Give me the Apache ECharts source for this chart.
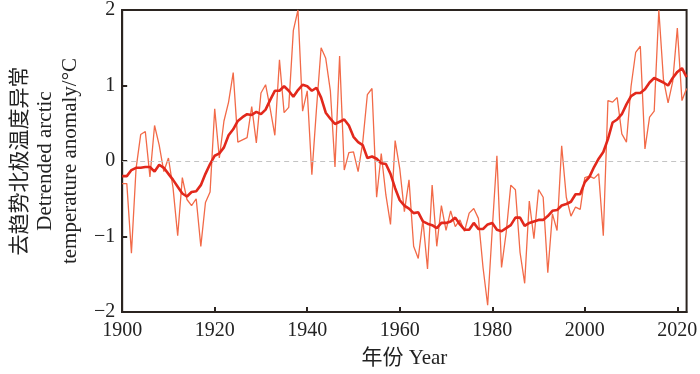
<!DOCTYPE html>
<html>
<head>
<meta charset="utf-8">
<script src="https://cdn.jsdelivr.net/npm/echarts@6/dist/echarts.min.js"></script>
</head>
<body style="margin:0">
<div id="chart" style="width:700px;height:374px"></div>
<script>
// years 1900..2022
const startYear = 1900;
const rawAnomaly = [
  -0.30, -0.30, -1.22, -0.10, 0.35, 0.39, -0.21, 0.47, 0.21, -0.14,
  0.04, -0.36, -0.99, -0.22, -0.51, -0.59, -0.50, -1.13, -0.55, -0.41,
  0.69, 0.04, 0.53, 0.78, 1.17, 0.25, 0.28, 0.31, 0.72, 0.24,
  0.90, 1.01, 0.69, 0.34, 1.34, 0.64, 0.71, 1.73, 2.00, 0.66,
  0.93, -0.18, 0.69, 1.50, 1.36, 0.93, -0.08, 1.39, -0.12, 0.11,
  0.12, -0.14, 0.25, 0.88, 0.96, -0.48, 0.10, -0.45, -0.84, 0.27,
  -0.10, -0.67, -0.25, -1.13, -1.29, -0.78, -1.43, -0.32, -1.13, -0.59,
  -0.92, -0.66, -0.87, -0.78, -0.93, -0.69, -0.63, -0.76, -1.41, -1.91,
  -0.90, 0.07, -1.41, -0.95, -0.32, -0.38, -1.21, -1.62, -0.53, -1.03,
  -0.38, -0.48, -1.48, -0.70, -0.92, 0.20, -0.48, -0.73, -0.61, -0.64,
  -0.22, -0.20, -0.23, -0.17, -0.99, 0.80, 0.78, 0.84, 0.36, 0.25,
  0.99, 1.44, 1.52, 0.16, 0.58, 0.66, 2.00, 1.08, 0.77, 1.05,
  1.76, 0.80, 0.96
];
const smoothAnomaly = [
  -0.20, -0.20, -0.12, -0.09, -0.09, -0.08, -0.08, -0.14, -0.05, -0.09,
  -0.17, -0.25, -0.34, -0.43, -0.47, -0.41, -0.40, -0.32, -0.17, -0.04,
  0.07, 0.10, 0.18, 0.34, 0.42, 0.53, 0.58, 0.62, 0.61, 0.65,
  0.62, 0.68, 0.81, 0.93, 0.93, 0.99, 0.93, 0.85, 0.94, 1.01,
  0.99, 0.93, 0.97, 0.84, 0.64, 0.56, 0.49, 0.52, 0.55, 0.47,
  0.32, 0.25, 0.21, 0.04, 0.06, 0.03, -0.03, -0.04, -0.17, -0.36,
  -0.52, -0.59, -0.63, -0.69, -0.68, -0.80, -0.83, -0.85, -0.89, -0.82,
  -0.82, -0.80, -0.75, -0.84, -0.91, -0.91, -0.82, -0.90, -0.90, -0.84,
  -0.82, -0.91, -0.93, -0.89, -0.85, -0.75, -0.75, -0.86, -0.82, -0.80,
  -0.78, -0.78, -0.73, -0.66, -0.65, -0.59, -0.57, -0.54, -0.44, -0.44,
  -0.28, -0.21, -0.08, 0.03, 0.12, 0.29, 0.51, 0.55, 0.62, 0.75,
  0.86, 0.90, 0.90, 0.95, 1.04, 1.10, 1.07, 1.04, 1.00, 1.10,
  1.18, 1.23, 1.11
];

const serif = "'Liberation Serif', 'Noto Sans CJK SC', serif";
const frameColor = '#2b2420';

const rawData = rawAnomaly.map((v, i) => [startYear + i, v]);
const smoothData = smoothAnomaly.map((v, i) => [startYear + i, v]);

var chart = echarts.init(document.getElementById('chart'));
chart.setOption({
  backgroundColor: '#fff',
  animation: false,
  grid: {
    left: 102, right: 10, top: 7, bottom: 62,
    show: true, borderColor: frameColor, borderWidth: 2
  },
  xAxis: {
    type: 'value',
    min: 1900, max: 2022, interval: 20,
    name: '年份 Year',
    nameLocation: 'middle',
    nameGap: 36,
    nameTextStyle: { fontFamily: serif, fontSize: 21, color: '#222' },
    axisLine: { onZero: false, lineStyle: { color: frameColor, width: 2 } },
    axisTick: { inside: true, length: 5, lineStyle: { color: frameColor, width: 2 } },
    axisLabel: {
      fontFamily: serif, fontSize: 20, color: '#222', margin: 9,
      showMaxLabel: false,
      formatter: v => (v % 20 === 0 ? String(v) : '')
    },
    splitLine: { show: false }
  },
  yAxis: {
    type: 'value',
    min: -2, max: 2, interval: 1,
    name: '去趋势北极温度异常\nDetrended arctic\ntemperature anomaly/°C',
    nameLocation: 'middle',
    nameRotate: 90,
    nameGap: 28,
    nameTextStyle: { fontFamily: serif, fontSize: 21, color: '#222', lineHeight: 25 },
    axisLine: { onZero: false, lineStyle: { color: frameColor, width: 2 } },
    axisTick: { inside: true, length: 5, lineStyle: { color: frameColor, width: 2 } },
    axisLabel: {
      fontFamily: serif, fontSize: 20, color: '#222', margin: 7,
      formatter: v => (v < 0 ? '\u2212' + Math.abs(v) : String(v))
    },
    splitLine: { show: false }
  },
  series: [{
    name: 'raw',
    type: 'line',
    data: rawData,
    showSymbol: false,
    lineStyle: { color: '#f26a48', width: 1.3 },
    markLine: {
      silent: true,
      symbol: 'none',
      label: { show: false },
      lineStyle: { color: '#c4c4c4', type: [5, 4], width: 1 },
      data: [{ yAxis: 0 }]
    },
    z: 2
  }, {
    name: 'smooth',
    type: 'line',
    data: smoothData,
    showSymbol: false,
    lineStyle: { color: '#e2281c', width: 2.6 },
    z: 3
  }]
});
</script>
</body>
</html>
